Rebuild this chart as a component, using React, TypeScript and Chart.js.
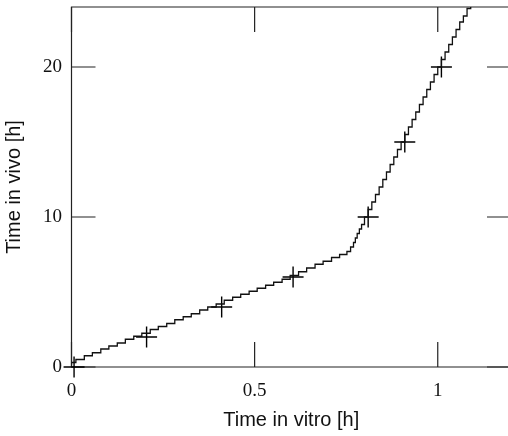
import React, { useEffect, useRef } from "react";
import { Chart, registerables } from "chart.js";

Chart.register(...registerables);

// Step curve (in vitro time vs in vivo time)
const curveX = [
  0.000, 0.012, 0.035, 0.057, 0.080, 0.102, 0.125, 0.147, 0.170, 0.192,
  0.215, 0.237, 0.260, 0.282, 0.305, 0.327, 0.350, 0.372, 0.395, 0.417,
  0.440, 0.462, 0.485, 0.507, 0.530, 0.552, 0.575, 0.597, 0.620, 0.642,
  0.665, 0.687, 0.710, 0.732, 0.752, 0.762,
  0.770, 0.775, 0.780, 0.786, 0.792, 0.800, 0.810, 0.820, 0.830, 0.840,
  0.850, 0.860, 0.870, 0.880, 0.890, 0.900, 0.910, 0.920, 0.930, 0.940,
  0.950, 0.960, 0.970, 0.980, 0.990, 1.000, 1.010, 1.020, 1.030, 1.040,
  1.050, 1.060, 1.070, 1.080, 1.090, 1.100,
];
const curveY = [
  0.15, 0.3, 0.5, 0.75, 0.95, 1.2, 1.4, 1.6, 1.85, 2.05,
  2.25, 2.5, 2.7, 2.9, 3.15, 3.35, 3.55, 3.8, 4.0, 4.2,
  4.45, 4.65, 4.85, 5.05, 5.25, 5.45, 5.65, 5.85, 6.1, 6.35,
  6.6, 6.85, 7.05, 7.3, 7.5, 7.7,
  8.0, 8.3, 8.6, 8.9, 9.2, 9.5, 10.0, 10.5, 11.0, 11.5,
  12.0, 12.5, 13.0, 13.5, 14.0, 14.5, 15.0, 15.5, 16.0, 16.5,
  17.0, 17.5, 18.0, 18.5, 19.0, 19.5, 20.0, 20.5, 21.0, 21.5,
  22.0, 22.5, 23.0, 23.4, 23.9, 24.4,
];

// Cross markers
const markX = [0.007, 0.205, 0.41, 0.605, 0.81, 0.91, 1.01];
const markY = [0, 2, 4, 6, 10, 15, 20];

// Axes
const xTickValues = [0, 0.5, 1];
const xTickLabels = ["0", "0.5", "1"];
const yTickValues = [0, 10, 20];
const yTickLabels = ["0", "10", "20"];
const xMin = 0, xMax = 1.2;
const yMin = 0, yMax = 24;
const xTitle = "Time in vitro [h]";
const yTitle = "Time in vivo [h]";

const frameColor = "#222";
const tickFont = { family: "'Liberation Serif', 'Times New Roman', serif", size: 19 };
const titleFont = { family: "'Liberation Sans', Arial, sans-serif", size: 20 };

const framePlugin = {
  id: "frame",
  beforeDatasetsDraw(chart: any) {
    const { ctx, chartArea } = chart;
    const { left, right, top, bottom } = chartArea;
    const xs = chart.scales.x;
    const ys = chart.scales.y;
    ctx.save();
    ctx.strokeStyle = frameColor;
    ctx.lineWidth = 1.2;
    ctx.beginPath();
    ctx.rect(left, top, right - left, bottom - top);
    ctx.stroke();
    ctx.beginPath();
    const tl = 25;
    xTickValues.forEach((v) => {
      const px = xs.getPixelForValue(v);
      ctx.moveTo(px, bottom);
      ctx.lineTo(px, bottom - tl);
      ctx.moveTo(px, top);
      ctx.lineTo(px, top + tl);
    });
    yTickValues.forEach((v) => {
      const py = ys.getPixelForValue(v);
      ctx.moveTo(left, py);
      ctx.lineTo(left + 24, py);
      ctx.moveTo(right, py);
      ctx.lineTo(right - 24, py);
    });
    ctx.stroke();
    ctx.restore();
  },
};

export default function App() {
  const ref = useRef<HTMLCanvasElement>(null);
  useEffect(() => {
    const canvas = ref.current;
    if (!canvas) return;
    const chart = new Chart(canvas, {
      type: "scatter",
      data: {
        datasets: [
          {
            type: "line",
            data: curveX.map((x, i) => ({ x, y: curveY[i] })),
            stepped: "after",
            borderColor: "#111",
            borderWidth: 1.3,
            pointRadius: 0,
            fill: false,
          } as any,
          {
            data: markX.map((x, i) => ({ x, y: markY[i] })),
            showLine: false,
            pointStyle: "cross",
            pointRadius: 10.5,
            borderColor: "#000",
            borderWidth: 1.4,
            backgroundColor: "#000",
            clip: false,
          } as any,
        ],
      },
      options: {
        animation: false,
        responsive: false,
        devicePixelRatio: 1,
        layout: { autoPadding: false, padding: { left: 0, top: 7, right: 9, bottom: 0 } },
        plugins: { legend: { display: false }, tooltip: { enabled: false } },
        scales: {
          x: {
            type: "linear",
            min: xMin,
            max: xMax,
            grid: { display: false, drawTicks: false },
            border: { display: false },
            afterBuildTicks: (s: any) => {
              s.ticks = xTickValues.map((v) => ({ value: v }));
            },
            afterFit: (s: any) => {
              s.height = 69;
              s.paddingLeft = 0;
              s.paddingRight = 0;
            },
            ticks: {
              padding: 13,
              color: "#111",
              font: tickFont,
              maxRotation: 0,
              callback: (v: any) => {
                const i = xTickValues.indexOf(Number(v));
                return i >= 0 ? xTickLabels[i] : "";
              },
            },
            title: {
              display: true,
              text: xTitle,
              color: "#111",
              font: titleFont,
              padding: { top: 0, bottom: 4 },
            },
          },
          y: {
            type: "linear",
            min: yMin,
            max: yMax,
            grid: { display: false, drawTicks: false },
            border: { display: false },
            afterBuildTicks: (s: any) => {
              s.ticks = yTickValues.map((v) => ({ value: v }));
            },
            afterFit: (s: any) => {
              s.width = 71.5;
              s.paddingTop = 0;
              s.paddingBottom = 0;
            },
            ticks: {
              padding: 9.5,
              color: "#111",
              font: tickFont,
              callback: (v: any) => {
                const i = yTickValues.indexOf(Number(v));
                return i >= 0 ? yTickLabels[i] : "";
              },
            },
            title: {
              display: true,
              text: yTitle,
              color: "#111",
              font: titleFont,
              padding: { top: 2, bottom: 0 },
            },
          },
        },
      },
      plugins: [framePlugin],
    });
    return () => chart.destroy();
  }, []);
  return (
    <div
      style={{
        position: "absolute",
        left: 0,
        top: 0,
        width: 508,
        height: 436,
        overflow: "hidden",
        background: "#fff",
      }}
    >
      <canvas ref={ref} width={520} height={436} style={{ width: 520, height: 436, display: "block" }} />
    </div>
  );
}
